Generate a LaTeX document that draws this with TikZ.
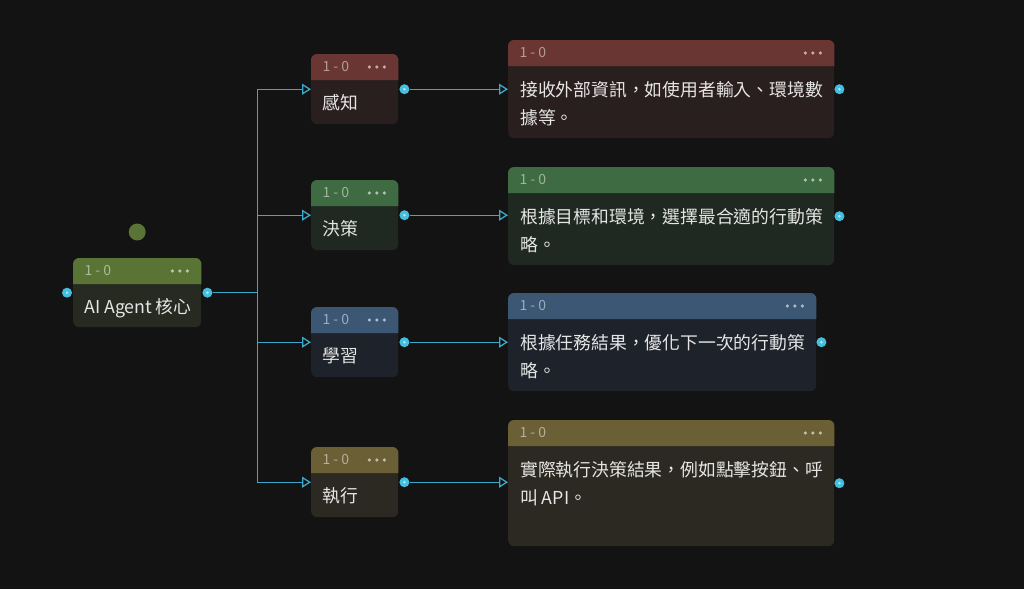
\documentclass[tikz,border=0pt]{standalone}
\usepackage{fontspec}
\setmainfont{Noto Sans CJK TC}
\usetikzlibrary{positioning,arrows.meta,calc}

\definecolor{canvas}{HTML}{131313}
\definecolor{wire}{HTML}{3BA7C9}
\definecolor{port}{HTML}{45BFE0}
\definecolor{agenthead}{HTML}{5A7436}
\definecolor{agentbody}{HTML}{262A21}
\definecolor{sensehead}{HTML}{6A3633}
\definecolor{sensebody}{HTML}{2A1F1F}
\definecolor{decidehead}{HTML}{3E6B41}
\definecolor{decidebody}{HTML}{1F2921}
\definecolor{learnhead}{HTML}{3B5774}
\definecolor{learnbody}{HTML}{1E222A}
\definecolor{acthead}{HTML}{6A5F35}
\definecolor{actbody}{HTML}{2B2921}

\begin{document}
\begin{tikzpicture}[x=1pt, y=-1pt, >={Triangle[open, length=9pt, width=11pt]},
  card/.style={rounded corners=6pt, inner sep=0pt, anchor=north west},
  label/.style={inner sep=0pt, text=white!90!black, font=\fontsize{17.8}{28}\selectfont, align=left},
  tag/.style={inner sep=0pt, anchor=west, text=white, text opacity=0.5, font=\fontsize{14}{14}\selectfont},
  port/.style={circle, fill=port, inner sep=0pt, minimum size=10pt,
    path picture={\fill[white!60!port] (path picture bounding box.center) circle (1.4pt);}},
  link/.style={draw=wire, line width=1.3pt, ->}]
  \fill[canvas] (0,0) rectangle (1024,589);
  \useasboundingbox (0,0) rectangle (1024,589);

  % cards
  \node[card, fill=agentbody, minimum width=128pt, minimum height=69pt] (agent) at (73,258) {};
  \node[card, fill=sensebody, minimum width=87pt, minimum height=70pt] (sense) at (311,54) {};
  \node[card, fill=decidebody, minimum width=87pt, minimum height=70pt] (decide) at (311,180) {};
  \node[card, fill=learnbody, minimum width=87pt, minimum height=70pt] (learn) at (311,307) {};
  \node[card, fill=actbody, minimum width=87pt, minimum height=70pt] (act) at (311,447) {};
  \node[card, fill=sensebody, minimum width=326pt, minimum height=98pt] (sense-desc) at (508,40) {};
  \node[card, fill=decidebody, minimum width=326pt, minimum height=98pt] (decide-desc) at (508,167) {};
  \node[card, fill=learnbody, minimum width=308pt, minimum height=98pt] (learn-desc) at (508,293) {};
  \node[card, fill=actbody, minimum width=326pt, minimum height=126pt] (act-desc) at (508,420) {};

  % headers
  \foreach \n/\c in {agent/agenthead, sense/sensehead, decide/decidehead, learn/learnhead, act/acthead,
      sense-desc/sensehead, decide-desc/decidehead, learn-desc/learnhead, act-desc/acthead} {
    \fill[\c] ([yshift=-26pt]\n.north west) [rounded corners=6pt] -- (\n.north west) -- (\n.north east)
      [sharp corners] -- ([yshift=-26pt]\n.north east) -- cycle;
    \node[tag] (\n-tag) at ([xshift=11.5pt, yshift=-13pt]\n.north west) {1\hspace{3pt}-\hspace{3pt}0};
    \foreach \d in {14,21.5,29}
      \fill[white, opacity=0.6] ([xshift=-\d pt, yshift=-13pt]\n.north east) circle (1.8pt);
  }

  % texts
  \node[label, anchor=west] (agent-text) at ([xshift=11pt, yshift=-50pt]agent.north west) {AI Agent\hspace{3pt}核心};
  \node[label, anchor=west] (sense-text) at ([xshift=11pt, yshift=-49pt]sense.north west) {感知};
  \node[label, anchor=west] (decide-text) at ([xshift=11pt, yshift=-49pt]decide.north west) {決策};
  \node[label, anchor=west] (learn-text) at ([xshift=11pt, yshift=-49pt]learn.north west) {學習};
  \node[label, anchor=west] (act-text) at ([xshift=11pt, yshift=-49pt]act.north west) {執行};
  \node[label, anchor=north west] (sense-desc-text) at ([xshift=12pt, yshift=-41pt]sense-desc.north west)
    {接收外部資訊，如使用者輸入、環境數\\據等。};
  \node[label, anchor=north west] (decide-desc-text) at ([xshift=12pt, yshift=-41pt]decide-desc.north west)
    {根據目標和環境，選擇最合適的行動策\\略。};
  \node[label, anchor=north west] (learn-desc-text) at ([xshift=12pt, yshift=-41pt]learn-desc.north west)
    {根據任務結果，優化下一次的行動策\\略。};
  \node[label, anchor=north west] (act-desc-text) at ([xshift=12pt, yshift=-41pt]act-desc.north west)
    {實際執行決策結果，例如點擊按鈕、呼\\叫 API。};

  \node[circle, fill=agenthead, minimum size=17pt, inner sep=0pt] (agent-dot) at ([yshift=26pt]agent.north) {};

  % ports
  \node[port] (agent-in) at ([xshift=-6pt]agent.west) {};
  \node[port] (agent-out) at ([xshift=6pt]agent.east) {};
  \foreach \n in {sense, decide, learn, act} {
    \node[port] (\n-out) at ([xshift=6pt]\n.east) {};
    \node[port] (\n-desc-out) at ([xshift=5pt]\n-desc.east) {};
  }

  % connectors
  \coordinate[right=50pt of agent-out.center] (fork);
  \foreach \n in {sense, decide, learn, act} {
    \draw[link] (agent-out) -- (fork) |- (\n.west);
    \draw[link] (\n-out) -- (\n-out -| \n-desc.west);
  }
\end{tikzpicture}
\end{document}
